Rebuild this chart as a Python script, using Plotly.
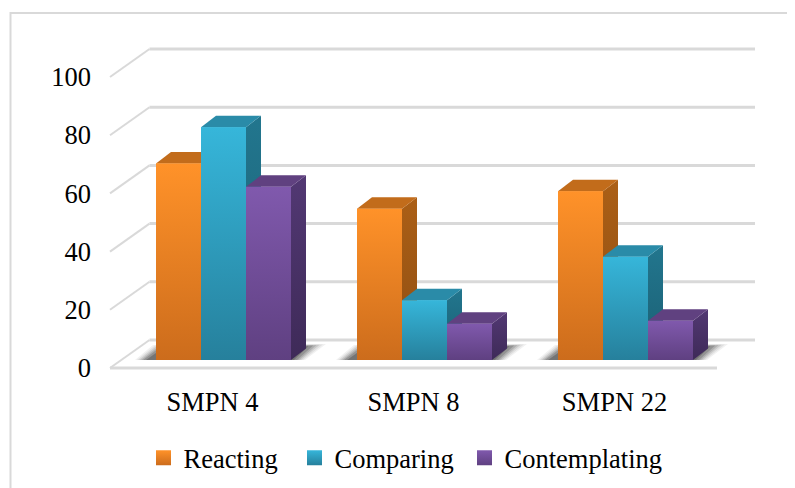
import plotly.graph_objects as go

categories = ["SMPN 4", "SMPN 8", "SMPN 22"]
series_names = ["Reacting", "Comparing", "Contemplating"]
reacting = [67.5, 52, 58]
comparing = [80, 20.5, 35.5]
contemplating = [59.5, 12.5, 13.5]
series_values = [reacting, comparing, contemplating]
y_ticks = [0, 20, 40, 60, 80, 100]

front_top = ["#ff9229", "#36b6da", "#8059ad"]
front_bottom = ["#cc6c1c", "#26809c", "#5f4081"]
side_top = ["#ab5f16", "#22768e", "#523873"]
side_bottom = ["#8f4e12", "#1b5f73", "#3e2a58"]
roof = ["#c26c1b", "#2a8ba8", "#604180"]
GRID = "#d9d9d9"
legend_text_x = [184, 335, 505]   # page x where each legend label starts

# geometry, in page pixels, converted to axis units below
W, H = 795, 488
PAGE = 8              # the page's own body margin
L, R, T, B = 100, 30, 40, 113   # plot area relative to the visible window
PX_X = 201.0          # pixels per category
PX_Y = 2.91           # pixels per value unit
X_ZERO = 212.5        # page x of the first category label
Y_ZERO = 368          # page y of value 0 on the front plane
PLOT_W, PLOT_H = W - L - R, H - T - B
ux = lambda p: p / PX_X
uy = lambda p: p / PX_Y

bar_w = ux(45)
bar_shift = ux(11)
bar_base = uy(8)
dx, dy = ux(15), uy(11.5)
wall_dx, wall_dy = ux(39.5), uy(28)
x_left = ux(110 - X_ZERO)
x_front_end = ux(717 - X_ZERO)
x_back_end = ux(755 - X_ZERO)

fig = go.Figure()

# walls and floor, behind every trace
shapes = []
for t in y_ticks:
    yb = t + wall_dy
    x0b = x_left + wall_dx
    shapes.append(dict(type="line", xref="x", yref="y", x0=x_left, y0=t, x1=x0b, y1=yb,
                       line=dict(color=GRID, width=2), layer="below"))
    shapes.append(dict(type="line", xref="x", yref="y", x0=x0b, y0=yb, x1=x_back_end, y1=yb,
                       line=dict(color=GRID, width=3), layer="below"))
shapes.append(dict(type="line", xref="x", yref="y", x0=x_left, y0=0, x1=x_front_end, y1=0,
                   line=dict(color=GRID, width=3), layer="below"))

# soft shadow on the floor
for i in range(len(categories)):
    gx0 = i + bar_shift - 1.5 * bar_w
    gx1 = i + bar_shift + 1.5 * bar_w
    for inset, alpha in [(0, 0.06), (2, 0.08), (4, 0.11), (6, 0.14), (8, 0.18), (11, 0.24)]:
        ins = ux(inset)
        pts = [
            (gx0 - ux(21) + ins, bar_base),
            (gx0 - ux(3) + ins, bar_base + uy(15) - uy(inset * 0.2)),
            (gx1 + ux(35) - ins * 1.6, bar_base + uy(16) - uy(inset * 0.2)),
            (gx1 + ux(14) - ins, bar_base),
        ]
        path = "M " + " L ".join(f"{a:.4f},{b:.3f}" for a, b in pts) + " Z"
        shapes.append(dict(type="path", xref="x", yref="y", path=path,
                           fillcolor=f"rgba(20,20,20,{alpha})", line=dict(width=0), layer="below"))

# border of the chart area (left and top only are visible)
px_to_paper_x = lambda p: (p - L) / PLOT_W
px_to_paper_y = lambda p: 1 - (p - T) / PLOT_H
shapes.append(dict(type="path", xref="paper", yref="paper",
                   path=f"M {px_to_paper_x(10.5)},{px_to_paper_y(488)} L {px_to_paper_x(10.5)},{px_to_paper_y(13)} L {px_to_paper_x(795)},{px_to_paper_y(13)}",
                   line=dict(color=GRID, width=2), layer="below"))


def face(xs, ys, top, bottom):
    fig.add_trace(go.Scatter(
        x=xs, y=ys, mode="lines", line=dict(width=0), fill="toself",
        fillgradient=dict(type="vertical", colorscale=[[0, bottom], [1, top]]),
        hoverinfo="skip", showlegend=False))


# bars through the library's own bar trace
for k, name in enumerate(series_names):
    fig.add_trace(go.Bar(
        x=[i + bar_shift + (k - 1) * bar_w for i in range(len(categories))],
        y=series_values[k], base=bar_base, width=bar_w, name=name,
        marker=dict(color=front_top[k], line=dict(width=0)),
        legendgroup=name, showlegend=False,
        hovertemplate=name + ": %{y}<extra></extra>"))

# depth faces and shaded fronts, left to right so nearer bars cover further ones
for i in range(len(categories)):
    for k in range(len(series_names)):
        v = series_values[k][i]
        xl = i + bar_shift + (k - 1.5) * bar_w
        xr = xl + bar_w
        y0, y1 = bar_base, bar_base + v
        face([xr, xr + dx, xr + dx, xr, xr], [y0, y0 + dy, y1 + dy, y1, y0], side_top[k], side_bottom[k])
        fig.add_trace(go.Scatter(
            x=[xl, xl + dx, xr + dx, xr, xl], y=[y1, y1 + dy, y1 + dy, y1, y1],
            mode="lines", line=dict(width=0), fill="toself", fillcolor=roof[k],
            hoverinfo="skip", showlegend=False))
        face([xl, xr, xr, xl, xl], [y0, y0, y1, y1, y0], front_top[k], front_bottom[k])

# legend entries, one legend per entry so each label sits at its own place
legend_ids = ["legend", "legend2", "legend3"]
for k, name in enumerate(series_names):
    fig.add_trace(go.Scatter(
        x=[None], y=[None], mode="markers", name=name, legendgroup=name, legend=legend_ids[k],
        marker=dict(symbol="square", size=15, color=front_top[k],
                    gradient=dict(type="vertical", color=front_bottom[k]),
                    line=dict(width=0))))

legend_layout = {
    lid: dict(orientation="h", x=(legend_text_x[k] - 40.5 - L) / PLOT_W,
              y=1 - (458 - T) / PLOT_H, xanchor="left", yanchor="middle",
              itemsizing="trace", bgcolor="rgba(0,0,0,0)",
              font=dict(family="Liberation Serif", size=26.5, color="#000000"))
    for k, lid in enumerate(legend_ids)
}

fig.update_layout(
    width=W, height=H, autosize=False,
    margin=dict(l=L - PAGE, r=R + PAGE, t=T - PAGE, b=B + PAGE, pad=0, autoexpand=False),
    paper_bgcolor="white", plot_bgcolor="rgba(0,0,0,0)",
    font=dict(family="Liberation Serif", size=26.5, color="#000000"),
    barmode="overlay", shapes=shapes, showlegend=True, **legend_layout,
)
fig.update_xaxes(range=[ux(L - X_ZERO), ux(W - R - X_ZERO)], tickmode="array",
                 tickvals=list(range(len(categories))), ticktext=categories,
                 showgrid=False, zeroline=False, showline=False, ticks="", ticklabelstandoff=8,
                 automargin=False)
fig.update_yaxes(range=[uy(Y_ZERO - (H - B)), uy(Y_ZERO - T)], tickmode="array",
                 tickvals=y_ticks, showgrid=False, zeroline=False, showline=False,
                 ticks="", ticklabelstandoff=8, automargin=False)

fig.write_html("out.html")
